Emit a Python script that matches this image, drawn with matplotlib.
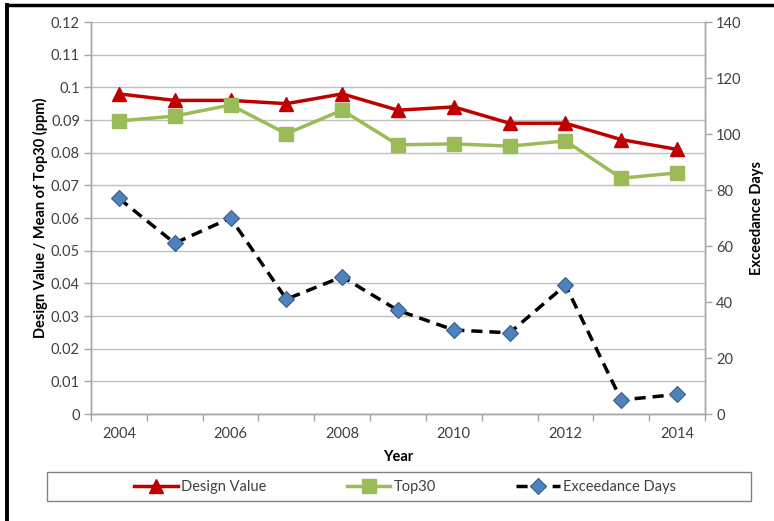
import matplotlib
matplotlib.use("Agg")
import matplotlib.pyplot as plt
from matplotlib.lines import Line2D
from matplotlib.patches import Rectangle
import numpy as np

plt.rcParams['font.family'] = ['Lato', 'DejaVu Sans']

years = [2004, 2005, 2006, 2007, 2008, 2009, 2010, 2011, 2012, 2013, 2014]
design_value = [0.098, 0.096, 0.096, 0.095, 0.098, 0.093, 0.094, 0.089, 0.089, 0.084, 0.081]
top30 = [0.0897, 0.0912, 0.0946, 0.0858, 0.0930, 0.0824, 0.0827, 0.0820, 0.0836, 0.0722, 0.0738]
exceedance_days = [77, 61, 70, 41, 49, 37, 30, 29, 46, 5, 7]
left_ticks = [0, 0.01, 0.02, 0.03, 0.04, 0.05, 0.06, 0.07, 0.08, 0.09, 0.1, 0.11, 0.12]
left_labels = ['0', '0.01', '0.02', '0.03', '0.04', '0.05', '0.06', '0.07', '0.08', '0.09', '0.1', '0.11', '0.12']
right_ticks = [0, 20, 40, 60, 80, 100, 120, 140]

W, H = 774, 521
fig = plt.figure(figsize=(W / 100, H / 100), dpi=100)
ax = fig.add_axes([91 / W, 1 - 414 / H, 614 / W, 392 / H])
ax2 = ax.twinx()

x = np.arange(len(years))
gray = '#A6A6A6'
txt = '#404040'

for y in left_ticks:
    ax.axhline(y, color='#BFBFBF', lw=1.0, zorder=0)

l1, = ax.plot(x, design_value, color='#C00000', lw=2.5, marker='^', ms=10,
              markerfacecolor='#C00000', markeredgecolor='#C00000', label='Design Value', zorder=3)
l2, = ax.plot(x, top30, color='#9BBB59', lw=2.5, marker='s', ms=10,
              markerfacecolor='#9BBB59', markeredgecolor='#9BBB59', label='Top30', zorder=3)
l3, = ax2.plot(x, exceedance_days, color='black', lw=2.5, ls=(0, (3.2, 2)), marker='D', ms=8,
               markerfacecolor='#4F81BD', markeredgecolor='#385D8A', markeredgewidth=0.8,
               label='Exceedance Days', zorder=3)

ax.set_xlim(-0.5, len(years) - 0.5)
ax.set_ylim(0, 0.12)
ax2.set_ylim(0, 140)

ax.set_yticks(left_ticks)
ax.set_yticklabels(left_labels)
ax2.set_yticks(right_ticks)
ax2.set_yticklabels([str(v) for v in right_ticks])

major_pos = x[::2]
ax.set_xticks(major_pos)
ax.set_xticklabels([str(years[i]) for i in major_pos])
ax.set_xticks(np.arange(-0.5, len(years), 1.0), minor=True)
ax.tick_params(axis='x', which='major', length=0, labelsize=10.5, colors=txt, pad=9)
ax.tick_params(axis='x', which='minor', length=5, color=gray, width=1)
ax.tick_params(axis='y', length=5, color=gray, width=1, labelsize=10.5, labelcolor=txt, pad=3)
ax2.tick_params(axis='y', length=5, color=gray, width=1, labelsize=10.5, labelcolor=txt, pad=3)

for a in (ax, ax2):
    a.spines['top'].set_visible(False)
    for s in ('left', 'right', 'bottom'):
        a.spines[s].set_color(gray)
        a.spines[s].set_linewidth(1)

ax.set_ylabel('Design Value / Mean of Top30 (ppm)', fontsize=10.5, fontweight='bold', labelpad=2, color='black')
ax2.set_ylabel('Exceedance Days', fontsize=10.5, fontweight='bold', labelpad=6, color='black')
ax.set_xlabel('Year', fontsize=10.5, fontweight='bold', labelpad=7, color='black')

# legend box
fig.patches.append(Rectangle((47 / W, 1 - 501 / H), 704 / W, 29 / H, transform=fig.transFigure,
                             fill=False, edgecolor='#808080', lw=1.0))
fig.legend(handles=[l1, l2, l3], loc='center', bbox_to_anchor=(405 / W, 1 - 487 / H), ncol=3,
           frameon=False, fontsize=10.5, handlelength=3.0, handletextpad=0.2, columnspacing=5.5,
           labelcolor=txt)

# outer frame lines (top and left)
fig.add_artist(Line2D([7 / W, 1.0], [1 - 5 / H, 1 - 5 / H], transform=fig.transFigure, color='black', lw=2.5))
fig.add_artist(Line2D([7 / W, 7 / W], [0, 1 - 5 / H], transform=fig.transFigure, color='black', lw=2.8))

fig.savefig('out.png', dpi=100)
